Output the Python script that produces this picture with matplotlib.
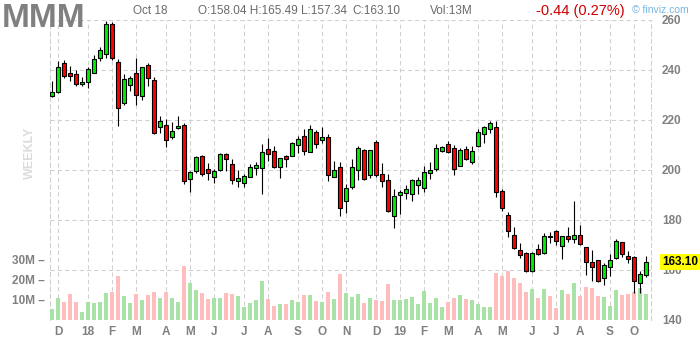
import matplotlib
matplotlib.use('Agg')
import matplotlib.pyplot as plt
import matplotlib.transforms as mtransforms
import numpy as np
import pandas as pd

ticker = "MMM"
start_week = "2017-11-20"

opens = [229.5, 231.1, 242.7, 238.7, 238.3, 234.3, 235.1, 238.7, 244.7, 246.3,
         258.3, 243.1, 226.7, 234.0, 238.7, 229.5, 241.9, 235.9, 217.3, 217.9,
         213.1, 216.7, 217.9, 196.4, 199.6, 205.5, 200.3, 197.3, 200.0, 206.4,
         202.3, 195.5, 194.9, 197.3, 201.0, 200.9, 208.3, 207.5, 201.3, 205.5,
         205.5, 209.9, 213.5, 207.1, 215.1, 211.9, 213.1, 197.3, 201.1, 187.5,
         193.1, 199.9, 207.9, 197.9, 211.1, 198.3, 195.9, 181.5, 189.9, 190.7,
         190.3, 193.9, 192.7, 198.7, 200.3, 207.5, 210.3, 208.7, 201.5, 208.3,
         203.1, 209.5, 214.3, 216.3, 217.1, 191.5, 181.9, 173.9, 167.9, 166.7,
         159.5, 168.3, 166.7, 173.5, 175.5, 169.5, 173.5, 172.3, 173.9, 169.1,
         163.1, 163.9, 156.7, 161.1, 164.7, 171.1, 165.5, 165.1, 154.7, 158.04]
highs = [235.6, 243.7, 244.0, 241.6, 239.9, 237.2, 241.1, 246.0, 249.1, 259.6,
         259.3, 244.4, 238.3, 237.6, 244.9, 241.1, 242.8, 237.2, 221.6, 220.3,
         219.1, 221.6, 218.9, 199.6, 205.6, 206.0, 202.7, 200.3, 206.8, 206.9,
         204.3, 200.0, 198.4, 202.3, 203.2, 210.4, 212.7, 209.6, 204.7, 206.0,
         211.3, 213.5, 216.3, 218.0, 216.0, 217.1, 214.3, 203.5, 203.2, 194.3,
         204.4, 209.6, 208.5, 208.0, 211.9, 202.8, 198.3, 192.4, 191.9, 193.9,
         196.3, 197.1, 201.5, 203.1, 210.4, 209.5, 211.5, 209.9, 208.7, 209.5,
         209.5, 216.3, 217.5, 219.5, 219.5, 192.3, 183.1, 177.1, 170.7, 167.1,
         167.1, 170.3, 174.7, 175.1, 175.9, 173.7, 177.1, 187.5, 177.9, 169.3,
         167.9, 164.1, 162.7, 166.3, 172.3, 171.3, 167.5, 165.5, 159.5, 165.49]
lows = [229.3, 231.0, 236.7, 235.7, 233.7, 233.7, 232.7, 238.7, 243.6, 244.7,
        244.0, 217.7, 225.9, 231.7, 226.0, 228.1, 233.5, 214.5, 214.7, 209.3,
        212.3, 216.3, 194.3, 191.3, 199.0, 197.7, 196.1, 194.9, 199.6, 199.7,
        194.5, 193.3, 193.2, 197.3, 198.0, 190.4, 203.6, 200.7, 196.8, 201.1,
        205.5, 206.9, 205.9, 207.1, 208.7, 210.9, 195.7, 197.3, 181.7, 182.9,
        192.3, 196.1, 196.0, 196.7, 197.1, 193.3, 183.3, 176.7, 182.5, 188.5,
        187.7, 190.3, 191.1, 196.3, 199.5, 207.1, 206.7, 197.9, 201.5, 204.1,
        202.3, 209.1, 210.7, 214.7, 189.1, 183.5, 173.1, 168.3, 164.7, 159.3,
        159.3, 165.9, 166.3, 170.7, 169.9, 164.3, 171.1, 170.7, 169.9, 157.9,
        155.5, 155.3, 153.9, 157.5, 164.5, 165.1, 162.7, 150.7, 150.7, 157.34]
closes = [231.1, 241.1, 237.5, 237.5, 234.3, 235.1, 240.3, 244.3, 248.0, 258.3,
          244.7, 224.7, 236.3, 236.7, 229.9, 241.1, 236.7, 214.7, 219.5, 211.9,
          215.5, 217.5, 195.6, 199.1, 205.1, 198.3, 198.7, 199.5, 206.3, 204.3,
          195.9, 196.8, 197.5, 201.1, 201.9, 207.1, 206.5, 201.3, 204.7, 204.5,
          210.7, 212.3, 207.5, 216.3, 210.3, 213.1, 197.9, 199.9, 184.7, 192.7,
          201.1, 208.7, 196.3, 207.9, 197.9, 195.5, 183.5, 189.5, 191.1, 192.3,
          195.9, 195.9, 199.1, 199.9, 208.7, 209.1, 207.1, 200.3, 207.9, 204.3,
          207.5, 215.1, 217.1, 218.7, 191.1, 184.7, 175.5, 168.7, 165.9, 159.5,
          166.7, 166.3, 173.5, 173.3, 171.5, 173.5, 172.3, 173.9, 170.3, 163.1,
          161.1, 155.5, 161.9, 163.9, 171.5, 166.3, 164.3, 155.5, 158.3, 163.10]
volumes_m = [5.7, 11, 9.2, 13, 9.2, 4.2, 9.2, 8.7, 9.2, 13.5,
             14.2, 22, 12, 8.7, 13, 10, 12.5, 14, 11, 14,
             11, 9.2, 27, 18.5, 15, 13.5, 10.5, 11, 11, 13.5,
             13, 12, 6.5, 8.5, 10, 19.5, 10.5, 7, 8, 8,
             10, 9, 12.5, 12.5, 9.5, 9, 14, 10.5, 23, 13.5,
             11.5, 13, 8.5, 11, 10, 9.5, 18, 10, 10, 10.5,
             11.5, 8, 14.5, 8.5, 11, 6.5, 9, 11, 12.5, 10.5,
             10, 8, 6.5, 6.5, 23.5, 22, 24.5, 21, 18.5, 14,
             15.5, 11, 15.5, 12, 6, 15, 13, 18.5, 12, 16.5,
             16, 12, 11.5, 7, 15, 12.5, 13, 14, 16, 13]

price_ticks = [140, 160, 180, 200, 220, 240, 260]
vol_ticks = [10, 20, 30]
vol_tick_labels = ["10M \u2013", "20M \u2013", "30M \u2013"]
month_letters = ["J", "F", "M", "A", "M", "J", "J", "A", "S", "O", "N", "D"]

header_date = "Oct 18"
header_ohlc = "O:158.04 H:165.49 L:157.34"
header_close = "C:163.10"
header_vol = "Vol:13M"
header_change = "-0.44 (0.27%)"
last_label = "163.10"

plt.rcParams['font.family'] = ['Liberation Sans', 'DejaVu Sans']

W, H = 700, 340
fig = plt.figure(figsize=(W / 100, H / 100), dpi=100)
fig.patch.set_facecolor('white')
rect = [50 / W, 20 / H, 601 / W, 300 / H]

axg = fig.add_axes(rect)
axv = fig.add_axes(rect, sharex=axg)
ax = fig.add_axes(rect, sharex=axg, sharey=axg)
axg.set_zorder(1)
axv.set_zorder(2)
ax.set_zorder(3)
axv.patch.set_visible(False)
ax.patch.set_visible(False)

n = len(opens)
idx = np.arange(n)
o = np.array(opens); c = np.array(closes)
hi = np.array(highs); lo = np.array(lows)
up = c >= o

# dates / month ticks
dates = pd.date_range(start_week, periods=n, freq='W-MON')
fridays = dates + pd.Timedelta(days=4)
tick_pos, tick_lab = [], []
for i in range(1, n):
    if fridays[i].month != fridays[i - 1].month:
        tick_pos.append(i)
        m = fridays[i].month
        tick_lab.append(f"{fridays[i].year % 100:02d}" if m == 1 else month_letters[m - 1])

grid_kw = dict(color='#cfcfcf', linewidth=0.75, linestyle=(0, (4, 3)))
axg.set_xlim(-1 / 3, n - 1 + 5 / 6)
axg.set_ylim(price_ticks[0], price_ticks[-1])
for p in price_ticks[1:]:
    axg.axhline(p, **grid_kw, zorder=0)
for t in tick_pos:
    axg.axvline(t, **grid_kw, zorder=0)
for s in ['top', 'bottom']:
    axg.spines[s].set_visible(False)
for s in ['left', 'right']:
    axg.spines[s].set_color('#cfcfcf')
    axg.spines[s].set_linestyle((0, (4, 3)))
    axg.spines[s].set_linewidth(0.75)
axg.yaxis.tick_right()
axg.set_yticks(price_ticks)
axg.set_yticklabels([str(p) for p in price_ticks])
axg.tick_params(axis='y', length=0, pad=8, labelsize=8.5, labelcolor='#808080')
axg.set_xticks(tick_pos)
axg.set_xticklabels(tick_lab)
axg.tick_params(axis='x', length=0, pad=4, labelsize=8.5, labelcolor='#808080')
for lab in axg.get_xticklabels() + axg.get_yticklabels():
    lab.set_fontweight('bold')

# volume
vcols = np.where(up, '#a9e2a6', '#ffbdbd')
axv.bar(idx, volumes_m, width=0.82, color=vcols, linewidth=0)
axv.set_ylim(0, 150)
axv.set_yticks(vol_ticks)
axv.set_yticklabels(vol_tick_labels)
axv.tick_params(axis='y', left=True, right=False, labelleft=True, labelright=False,
                length=0, pad=4, labelsize=8.5, labelcolor='#808080')
axv.tick_params(axis='x', bottom=False, labelbottom=False)
for lab in axv.get_yticklabels():
    lab.set_fontweight('bold')
for s in axv.spines.values():
    s.set_visible(False)

# candles
ax.vlines(idx, lo, hi, color='black', linewidth=0.8, zorder=2)
body_bottom = np.minimum(o, c)
body_h = np.maximum(np.abs(c - o), 0.08)
ccols = np.where(up, '#00ee00', '#ff0000')
ax.bar(idx, body_h, bottom=body_bottom, width=0.68, color=ccols,
       edgecolor='black', linewidth=0.8, zorder=3)
ax.tick_params(left=False, right=False, bottom=False, top=False,
               labelleft=False, labelright=False, labelbottom=False)
for s in ax.spines.values():
    s.set_visible(False)

# last price label
trans = mtransforms.blended_transform_factory(ax.transAxes, ax.transData)
ax.text(1 + 11 / 601, closes[-1], last_label, transform=trans, ha='left', va='center',
        fontsize=8.5, fontweight='bold', color='black', clip_on=False, zorder=5,
        bbox=dict(boxstyle='square,pad=0.15', facecolor='#ffff00', edgecolor='none'))

# header
def fy(y):
    return 1 - y / H

fig.text(2 / W, fy(27), ticker, fontsize=24, fontweight='bold', color='#808080', va='baseline')
fig.text(133 / W, fy(14), header_date, fontsize=8.5, color='#6a6a6a', va='baseline')
fig.text(198 / W, fy(14), header_ohlc, fontsize=8.5, color='#6a6a6a', va='baseline')
fig.text(352 / W, fy(14), header_close, fontsize=8.5, color='#6a6a6a', va='baseline')
fig.text(430 / W, fy(14), header_vol, fontsize=8.5, color='#6a6a6a', va='baseline')
fig.text(536 / W, fy(15), header_change, fontsize=10.5, color='#cc0000', va='baseline')
fig.text(689 / W, fy(13), "\u00a9 finviz.com", fontsize=7.5, color='#78b4e0', va='baseline', ha='right')
fig.text(30 / W, fy(153), "WEEKLY", fontsize=9, fontweight='bold', color='#dcdcdc',
         rotation=90, ha='center', va='center')

fig.savefig('out.png', dpi=100, facecolor='white')
